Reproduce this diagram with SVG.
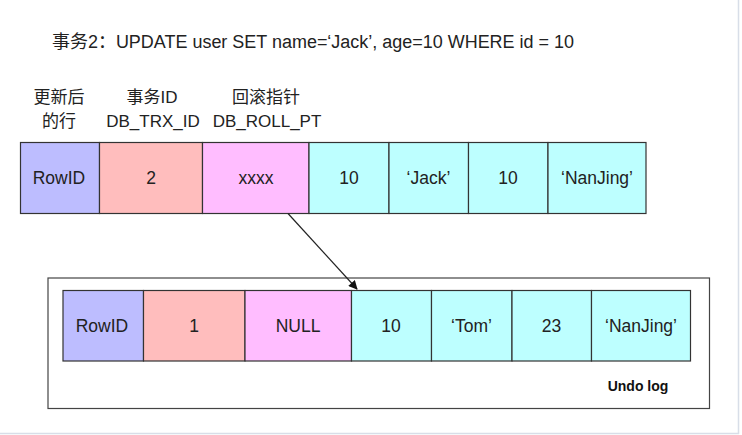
<svg xmlns="http://www.w3.org/2000/svg" width="742" height="435" viewBox="0 0 742 435">
<defs>
<marker id="arrow" viewBox="0 0 10 10" refX="9" refY="5" markerWidth="10" markerHeight="9" orient="auto" markerUnits="userSpaceOnUse">
<path d="M0,0 L10,5 L0,10 z" fill="#111"/>
</marker>
</defs>
<style>
text{font-family:"Liberation Sans","Noto Sans CJK SC",sans-serif;fill:#222}
.t{font-size:18px}
.h{font-size:17px;text-anchor:middle}
.c{font-size:17.5px;text-anchor:middle;dominant-baseline:central}
.cell{stroke:#333;stroke-width:1.2}
.rid{fill:#bdbdff}
.trx{fill:#ffbdbd}
.roll{fill:#ffbdff}
.dat{fill:#bdffff}
</style>
<rect x="0" y="0" width="742" height="435" fill="#fff"/>
<line x1="738.5" y1="0" x2="738.5" y2="434" stroke="#d8dee8" stroke-width="1.5"/>
<line x1="0" y1="433.5" x2="739" y2="433.5" stroke="#d8dee8" stroke-width="1.5"/>
<text class="t" x="52" y="48" textLength="522" lengthAdjust="spacingAndGlyphs">事务2：UPDATE user SET name=‘Jack’, age=10 WHERE id = 10</text>
<g id="headers">
<text class="h" x="59" y="103">更新后</text>
<text class="h" x="59" y="127">的行</text>
<text class="h" x="152" y="103">事务ID</text>
<text class="h" x="153" y="127">DB_TRX_ID</text>
<text class="h" x="266" y="103">回滚指针</text>
<text class="h" x="267" y="127">DB_ROLL_PT</text>
</g>
<g id="current-row">
<rect class="cell rid" x="20.5" y="142.5" width="79" height="71"/>
<rect class="cell trx" x="99.5" y="142.5" width="103" height="71"/>
<rect class="cell roll" x="202.5" y="142.5" width="106.5" height="71"/>
<rect class="cell dat" x="309" y="142.5" width="80" height="71"/>
<rect class="cell dat" x="389" y="142.5" width="79.5" height="71"/>
<rect class="cell dat" x="468.5" y="142.5" width="79.5" height="71"/>
<rect class="cell dat" x="548" y="142.5" width="98" height="71"/>
<text class="c" x="59" y="178">RowID</text>
<text class="c" x="151" y="178">2</text>
<text class="c" x="256" y="178">xxxx</text>
<text class="c" x="349" y="178">10</text>
<text class="c" x="428.5" y="178">‘Jack’</text>
<text class="c" x="508" y="178">10</text>
<text class="c" x="597" y="178">‘NanJing’</text>
</g>
<g id="undo-log">
<rect x="48" y="278" width="661.5" height="130.5" fill="#fff" stroke="#444" stroke-width="1.2"/>
<rect class="cell rid" x="63" y="290.5" width="80.5" height="70.5"/>
<rect class="cell trx" x="143.5" y="290.5" width="101.5" height="70.5"/>
<rect class="cell roll" x="245" y="290.5" width="106.5" height="70.5"/>
<rect class="cell dat" x="351.5" y="290.5" width="80" height="70.5"/>
<rect class="cell dat" x="431.5" y="290.5" width="80.5" height="70.5"/>
<rect class="cell dat" x="512" y="290.5" width="79.5" height="70.5"/>
<rect class="cell dat" x="591.5" y="290.5" width="99" height="70.5"/>
<text class="c" x="102" y="326">RowID</text>
<text class="c" x="194" y="326">1</text>
<text class="c" x="298" y="326">NULL</text>
<text class="c" x="391" y="326">10</text>
<text class="c" x="471.5" y="326">‘Tom’</text>
<text class="c" x="551.5" y="326">23</text>
<text class="c" x="641" y="326">‘NanJing’</text>
<text x="638" y="391" style="font-size:14px;font-weight:bold;text-anchor:middle;fill:#111">Undo log</text>
</g>
<g id="connectors">
<line x1="288" y1="213.5" x2="357" y2="289" stroke="#222" stroke-width="1.2" marker-end="url(#arrow)"/>
</g>
</svg>
